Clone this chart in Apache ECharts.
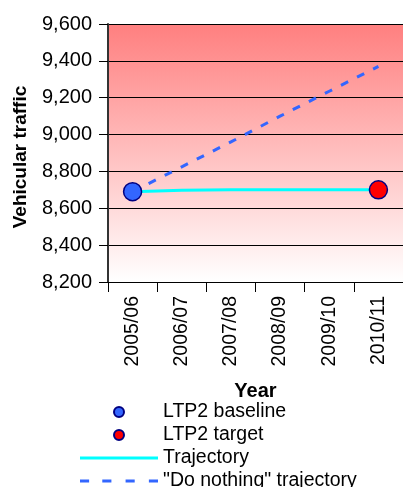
<!DOCTYPE html>
<html>
<head>
<meta charset="utf-8">
<script src="https://cdn.jsdelivr.net/npm/echarts@6/dist/echarts.min.js"></script>
<style>html,body{margin:0;padding:0;background:#fff;}#c{width:403px;height:487px;}</style>
</head>
<body>
<div id="c"></div>
<script>
const categories = ['2005/06', '2006/07', '2007/08', '2008/09', '2009/10', '2010/11'];
const baseline = [8690, null, null, null, null, null];
const target = [null, null, null, null, null, 8700];
const trajectory = [8690, 8698, 8700, 8700, 8700, 8700];
const doNothing = [8690, 8825, 8960, 9100, 9235, 9370];
const yMin = 8200, yMax = 9600, yStep = 200;

const chart = echarts.init(document.getElementById('c'), null, {renderer: 'canvas'});
const font = 'Liberation Sans, Arial, sans-serif';
const toPts = arr => arr.map((v, i) => v == null ? null : [categories[i], v]).filter(Boolean);

const lineIcon = 'path://M0,0H78V3H0Z';
const dashIcon = 'path://M0,0H9V3H0Z M22,0H31V3H22Z M45,0H54V3H45Z M68,0H77V3H68Z';

chart.setOption({
  animation: false,
  textStyle: {fontFamily: font, color: '#000'},
  grid: {
    left: 108, top: 24, right: -10, bottom: 205,
    show: true, borderWidth: 0,
    backgroundColor: new echarts.graphic.LinearGradient(0, 0, 0, 1, [
      {offset: 0, color: '#FF7F7F'},
      {offset: 1, color: '#FFFFFF'}
    ])
  },
  xAxis: {
    type: 'category', data: categories, boundaryGap: true,
    name: 'Year', nameLocation: 'middle', nameGap: 99,
    nameTextStyle: {fontSize: 20, fontWeight: 'bold', color: '#000', fontFamily: font},
    axisLine: {lineStyle: {color: '#000', width: 1}},
    axisTick: {show: true, length: 10, lineStyle: {color: '#000'}},
    axisLabel: {rotate: 90, fontSize: 19.5, color: '#000', margin: 14, fontFamily: font}
  },
  yAxis: {
    type: 'value', min: yMin, max: yMax, interval: yStep,
    name: 'Vehicular traffic', nameLocation: 'middle', nameGap: 78,
    nameTextStyle: {fontSize: 19, fontWeight: 'bold', color: '#000', fontFamily: font,
      padding: [0, 8, 0, 0]},
    axisLine: {show: true, lineStyle: {color: '#333', width: 2}},
    axisTick: {show: true, length: 9, lineStyle: {color: '#000'}},
    axisLabel: {fontSize: 20, color: '#000', margin: 16, fontFamily: font,
      formatter: v => v.toLocaleString('en-US')},
    splitLine: {show: true, lineStyle: {color: '#000', width: 1}}
  },
  legend: {
    orient: 'vertical', left: 80, top: 402, height: 90, padding: 0,
    itemWidth: 78, itemHeight: 10, itemGap: 3,
    textStyle: {fontSize: 19.5, lineHeight: 18.5, color: '#000', fontFamily: font},
    data: [
      {name: 'LTP2 baseline'},
      {name: 'LTP2 target'},
      {name: 'Trajectory', icon: lineIcon},
      {name: '"Do nothing" trajectory', icon: dashIcon}
    ]
  },
  series: [
    {
      name: 'Trajectory', type: 'line', data: trajectory,
      symbol: 'none', z: 3,
      lineStyle: {color: '#00FFFF', width: 3},
      itemStyle: {color: '#00FFFF'}
    },
    {
      name: '"Do nothing" trajectory', type: 'line', data: doNothing,
      symbol: 'none', z: 2,
      lineStyle: {color: '#3366FF', width: 3, type: [8, 10]},
      itemStyle: {color: '#3366FF'}
    },
    {
      name: 'LTP2 baseline', type: 'scatter', data: toPts(baseline),
      symbol: 'circle', symbolSize: 18, z: 5,
      itemStyle: {color: '#3366FF', borderColor: '#000080', borderWidth: 1.5, opacity: 1}
    },
    {
      name: 'LTP2 target', type: 'scatter', data: toPts(target),
      symbol: 'circle', symbolSize: 18, z: 5,
      itemStyle: {color: '#FF0000', borderColor: '#000080', borderWidth: 1.5, opacity: 1}
    }
  ]
});
</script>
</body>
</html>
